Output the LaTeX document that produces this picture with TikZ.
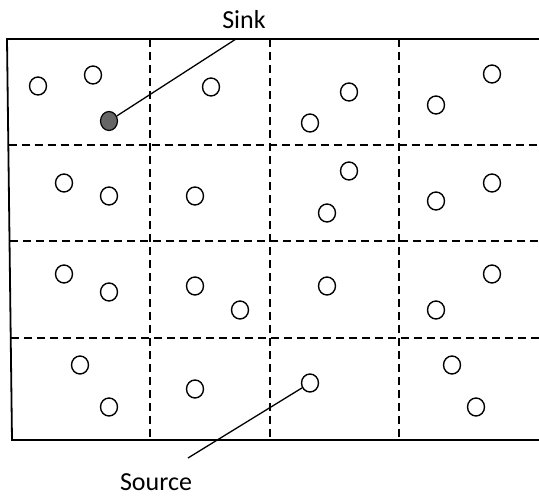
\documentclass[tikz,border=0pt]{standalone}
\usepackage{fontspec}
\setmainfont{Carlito}
\usetikzlibrary{shapes.geometric}
\begin{document}
\begin{tikzpicture}[x=1pt,y=-1pt,
  node/.style={ellipse,draw=black,line width=1.4pt,minimum width=17pt,minimum height=18pt,inner sep=0pt},
  sinknode/.style={ellipse,draw=black,line width=1.2pt,fill=black!60,minimum width=17pt,minimum height=19pt,inner sep=0pt},
  grid/.style={line width=1.3pt,dash pattern=on 8pt off 5pt},
  frame/.style={line width=1.8pt},
  pointer/.style={line width=1.3pt},
  lab/.style={font=\fontsize{26}{30}\selectfont,inner sep=0pt}]
\useasboundingbox (0,0) rectangle (539,497);
% frame
\coordinate (tl) at (7,39);
\coordinate (bl) at (12,440);
\coordinate (tr) at (539,39);
\coordinate (br) at (539,440);
% grid
\foreach \x in {150,270,399}{
  \draw[grid] (\x,39) -- (\x,440);
}
\foreach \y/\xl in {145/8.5,241/10,338/11}{
  \draw[grid] (\xl,\y) -- (539,\y);
}
\draw[frame] (tr) -- (tl) -- (bl) -- (br);
% nodes
\node[node] (n1) at (38,86) {};
\node[node] (n2) at (93,75) {};
\node[node] (n3) at (211,87) {};
\node[node] (n4) at (349,92) {};
\node[node] (n5) at (310,123) {};
\node[node] (n6) at (492,74) {};
\node[node] (n7) at (436,105) {};
\node[node] (n8) at (64,183) {};
\node[node] (n9) at (109,196) {};
\node[node] (n10) at (195,196) {};
\node[node] (n11) at (349,171) {};
\node[node] (n12) at (327,213) {};
\node[node] (n13) at (492,183) {};
\node[node] (n14) at (436,201) {};
\node[node] (n15) at (64,274) {};
\node[node] (n16) at (109,292) {};
\node[node] (n17) at (195,286) {};
\node[node] (n18) at (240,310) {};
\node[node] (n19) at (327,286) {};
\node[node] (n20) at (492,274) {};
\node[node] (n21) at (436,310) {};
\node[node] (n22) at (80,365) {};
\node[node] (n23) at (109,407) {};
\node[node] (n24) at (195,389) {};
\node[node] (n25) at (452,365) {};
\node[node] (n26) at (476,407) {};
\node[node] (src) at (310,383) {};
\node[sinknode] (sink) at (109,121) {};
% labels
\node[lab] (sinklab) at (244,20) {Sink};
\node[lab] (srclab) at (156,482) {Source};
\coordinate (sinkend) at (236,39);
\coordinate (srcend) at (188,458);
\draw[pointer] (sink) -- (sinkend);
\draw[pointer] (src) -- (srcend);
\end{tikzpicture}
\end{document}
